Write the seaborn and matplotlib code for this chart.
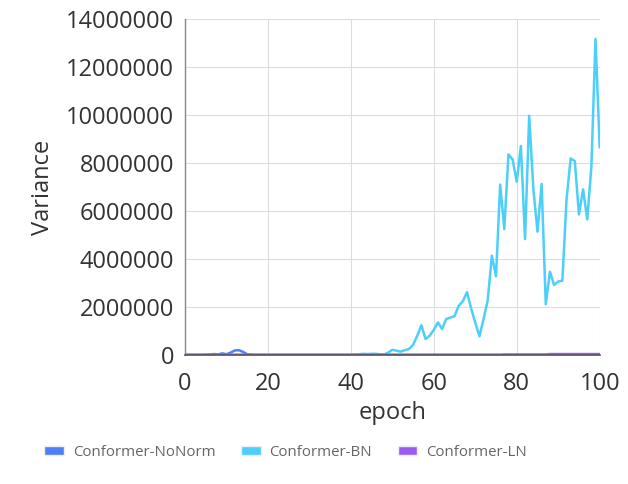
import numpy as np
import pandas as pd
import seaborn as sns
import matplotlib.pyplot as plt
from matplotlib.patches import Patch
from matplotlib.ticker import FuncFormatter, MultipleLocator

# --- data (in millions) ---
epochs = list(range(0, 101))

nonorm_m = [0, 0, 0, 0, 0, 0.01, 0.02, 0.04, 0.02, 0.07, 0.03, 0.1, 0.19, 0.2, 0.13, 0.03,
            0.01] + [0] * 84

bn_m = [0] * 41 + [
    0.02, 0.03, 0.05, 0.04, 0.05, 0.05, 0.03, 0.02, 0.1, 0.22,    # 41-50
    0.18, 0.14, 0.2, 0.25, 0.42, 0.8, 1.24, 0.67, 0.8, 1.05,      # 51-60
    1.36, 1.08, 1.5, 1.56, 1.62, 2.05, 2.24, 2.62, 1.94, 1.35,    # 61-70
    0.78, 1.5, 2.28, 4.14, 3.28, 7.1, 5.25, 8.36, 8.15, 7.22,     # 71-80
    8.71, 4.83, 9.97, 6.94, 5.14, 7.13, 2.12, 3.47, 2.92, 3.06,   # 81-90
    3.1, 6.46, 8.19, 8.08, 5.86, 6.9, 5.65, 7.85, 13.17, 8.65,    # 91-100
]

ln_m = [0.01] * 77 + [0.02] * 11 + [0.04] * 13

series_names = ['Conformer-NoNorm', 'Conformer-BN', 'Conformer-LN']
colors = ['#4f7ef8', '#4ccffa', '#9b5cf6']

# --- long-format table ---
df = pd.DataFrame({
    'epoch': epochs * 3,
    'Variance': np.array(nonorm_m + bn_m + ln_m) * 1e6,
    'model': sum([[n] * len(epochs) for n in series_names], []),
})

sns.set_style('whitegrid')
plt.rcParams['font.family'] = ['Open Sans', 'DejaVu Sans']

fig = plt.figure(figsize=(6.28, 4.84), dpi=100)
ax = fig.add_axes([0.2946, 0.2665, 0.6603, 0.6942])

sns.lineplot(data=df, x='epoch', y='Variance', hue='model', hue_order=series_names,
             palette=colors, linewidth=1.8, legend=False, ax=ax)

ax.set_xlim(0, 100)
ax.set_ylim(0, 14000000)
ax.xaxis.set_major_locator(MultipleLocator(20))
ax.yaxis.set_major_locator(MultipleLocator(2000000))
ax.yaxis.set_major_formatter(FuncFormatter(lambda v, p: f'{v:.0f}'))

ax.grid(True, color='#dddddd', linewidth=0.8)
ax.tick_params(axis='both', length=0, labelsize=17, colors='#333333', pad=8)
ax.tick_params(axis='x', pad=12)
ax.set_xlabel('epoch', fontsize=17, color='#333333', labelpad=4)
ax.set_ylabel('Variance', fontsize=17, color='#333333', labelpad=8)

for side in ['top', 'right']:
    ax.spines[side].set_visible(False)
ax.spines['left'].set_color('#888888')
ax.spines['bottom'].set_color('#555555')
ax.spines['left'].set_linewidth(1.0)
ax.spines['bottom'].set_linewidth(1.2)

handles = [Patch(facecolor=c, edgecolor='#eeeeee', linewidth=1.0) for c in colors]
leg = fig.legend(handles, series_names, loc='center', bbox_to_anchor=(0.455, 0.066),
                 ncol=3, frameon=False, fontsize=10.8, handlelength=1.3, handleheight=0.6,
                 handletextpad=0.6, columnspacing=1.7)
for t in leg.get_texts():
    t.set_color('#666666')

fig.savefig('out.png', dpi=100)
